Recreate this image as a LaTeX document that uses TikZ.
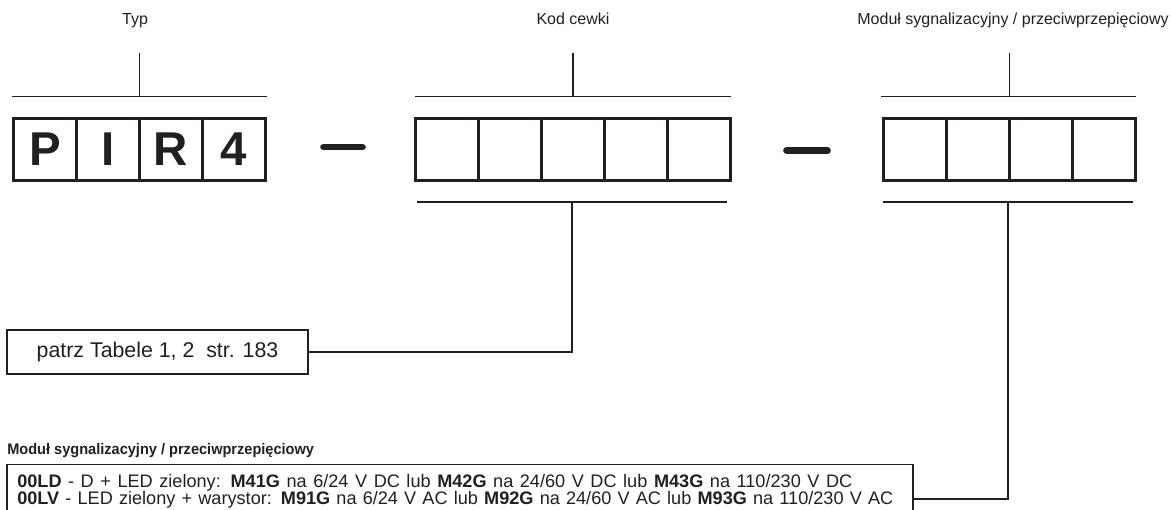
\documentclass[tikz,border=0pt]{standalone}
\usepackage{fontspec}
\setmainfont{Liberation Sans}
\definecolor{ink}{RGB}{35,31,32}

\begin{document}
\begin{tikzpicture}[x=0.75pt,y=-0.75pt,
    every node/.style={text=ink,inner sep=0pt},
    cell/.style={draw=ink,line width=2.25pt,minimum width=47.25pt,minimum height=46.5pt,font=\fontsize{35.6}{40}\selectfont\bfseries},
    headtext/.style={font=\fontsize{12}{14}\selectfont,anchor=base},
    legtext/.style={font=\fontsize{13.6}{16}\selectfont,anchor=base west},
    bar/.style={draw=ink,line width=1.1pt},
    wire/.style={draw=ink,line width=0.8pt},
    dashbar/.style={draw=ink,line width=5pt,line cap=round}]

    \clip (0,0) rectangle (1171,510);

    % naglowki
    \node[headtext] (typ) at (135,25) {Typ};
    \node[headtext] (kodcewki) at (573,25) {Kod cewki};
    \node[headtext] (modul) at (1013,25) {Moduł sygnalizacyjny / przeciwprzepięciowy};

    % kratki
    \foreach \l [count=\i] in {P,I,R,4}
      \node[cell] (t\i) at ({45+63*(\i-1)},149.5) {\l};
    \foreach \i in {1,...,5}
      \node[cell] (k\i) at ({447+63*(\i-1)},149.5) {};
    \foreach \i in {1,...,4}
      \node[cell] (m\i) at ({915+63*(\i-1)},149.5) {};

    % kreski nad i pod kratkami
    \draw[bar] (12,96.5) -- (267,96.5);
    \draw[bar] (139.5,53) -- (139.5,96.5);
    \draw[bar] (415,96.5) -- (731,96.5);
    \draw[bar] (573,53) -- (573,96.5);
    \draw[bar] (881,96.5) -- (1136,96.5);
    \draw[bar] (1009.5,53) -- (1009.5,96.5);
    \draw[bar] (417,202) -- (727,202);
    \draw[bar] (883,202) -- (1133,202);
    \coordinate (kod) at (572,202);
    \coordinate (mod) at (1008,202);

    % myslniki
    \draw[dashbar] (323.5,147) -- (362.5,147);
    \draw[dashbar] (786.5,150.5) -- (827.5,150.5);

    % odnosniki
    \node[draw=ink,line width=0.8pt,minimum width=225.75pt,minimum height=33pt,font=\fontsize{16}{19}\selectfont] (patrz) at (157.5,352) {patrz Tabele 1, 2\ \ str. 183};
    \draw[wire] (kod) |- (patrz.east);

    \node[anchor=base west,font=\fontsize{11.5}{13}\selectfont\bfseries] (modtitle) at (7,454) {\scalebox{0.95}[1]{Moduł sygnalizacyjny / przeciwprzepięciowy}};
    \node[draw=ink,line width=0.8pt,minimum width=679.5pt,minimum height=52pt] (legend) at (460,499) {};
    \draw[wire] (mod) |- (legend.east);
    \node[legtext] (ld) at (17,487.5) {\makebox[626.25pt][s]{\textbf{00LD} - D + LED zielony: \textbf{M41G} na 6/24 V DC lub \textbf{M42G} na 24/60 V DC lub \textbf{M43G} na 110/230 V DC}};
    \node[legtext] (lv) at (17,504) {\makebox[657pt][s]{\textbf{00LV} - LED zielony + warystor: \textbf{M91G} na 6/24 V AC lub \textbf{M92G} na 24/60 V AC lub \textbf{M93G} na 110/230 V AC}};
\end{tikzpicture}
\end{document}
